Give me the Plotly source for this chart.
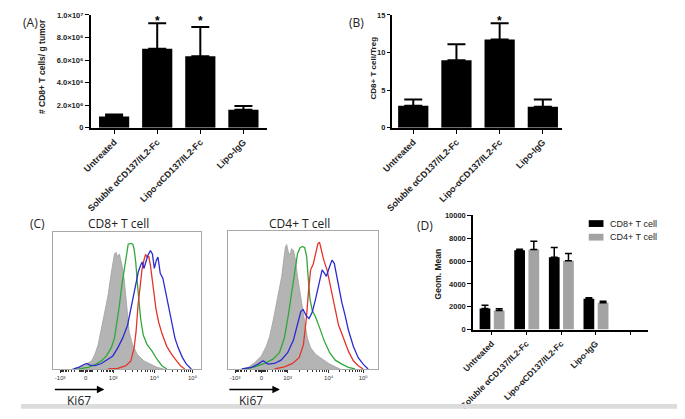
import numpy as np
import plotly.graph_objects as go

# page body has an 8px margin: the figure is drawn 8px in from the window corner
PAGE_W, PAGE_H, BODY = 685, 419, 8
W, H = PAGE_W - 2 * BODY, PAGE_H - 2 * BODY

def fx(px):
    return (px - BODY) / W

def fy(py):
    return 1 - (py - BODY) / H

# ---------------- data ----------------
groups = ["Untreated", "Soluble αCD137/IL2-Fc", "Lipo-αCD137/IL2-Fc", "Lipo-IgG"]

# (A) CD8+ T cells per g tumor
cd8_per_g = [1.0e6, 7.0e6, 6.33e6, 1.6e6]
cd8_per_g_err = [0.17e6, 2.26e6, 2.61e6, 0.32e6]
a_ticks = [0, 2e6, 4e6, 6e6, 8e6, 1e7]
a_ticktext = ["0", "2.0×10⁶", "4.0×10⁶", "6.0×10⁶", "8.0×10⁶", "1.0×10⁷"]
a_signif = ["Soluble αCD137/IL2-Fc", "Lipo-αCD137/IL2-Fc"]

# (B) CD8+ T cell / Treg
cd8_treg = [2.92, 8.98, 11.73, 2.79]
cd8_treg_err = [0.82, 2.11, 2.15, 0.95]
b_ticks = [0, 5, 10, 15]
b_signif = ["Lipo-αCD137/IL2-Fc"]

# (D) Ki67 geometric mean
d_categories = groups + [" "]
geo_cd8 = [1850, 6950, 6320, 2690]
geo_cd8_err = [290, 90, 860, 90]
geo_cd4 = [1660, 7000, 6030, 2340]
geo_cd4_err = [170, 720, 630, 150]
d_ticks = [0, 2000, 4000, 6000, 8000, 10000]
d_ticktext = ["0", "2000", "4000", "6000", "8000", "10000"]

# (C) Ki67 histograms (channel 0-1000 on display scale, % of mode)
hist_ticktext = ["-10³", "0", "10³", "10⁴", "10⁵"]
cd8_tickpos = [46, 219, 404, 682, 940]
cd4_tickpos = [48, 223, 398, 672, 902]

cd8_gray_x = [125.8, 158.9, 192.1, 225.2, 258.3, 280.4, 302.4, 324.5, 346.6, 368.7, 390.7, 401.8, 412.8, 423.8, 434.9, 445.9, 457.0, 468.0, 479.0, 490.1, 501.1, 512.1, 534.2, 567.3, 611.5, 655.6, 699.8, 743.9]
cd8_gray_y = [0, 0.5, 1.7, 3.5, 5.9, 10.6, 17.7, 29.6, 41.4, 53.2, 69.7, 75.7, 83.9, 85.1, 81.6, 83.9, 79.2, 73.3, 65.0, 50.8, 39.0, 27.2, 17.7, 10.6, 5.9, 3.5, 1.2, 0]
cd8_green_x = [170.0, 236.2, 280.4, 324.5, 357.6, 390.7, 412.8, 430.5, 445.9, 461.4, 474.6, 485.7, 496.7, 505.5, 523.2, 536.4, 545.3, 556.3, 567.3, 578.4, 589.4, 607.1, 633.6, 666.7, 699.8, 732.9, 766.0]
cd8_green_y = [0, 1.2, 3.1, 5.9, 9.5, 15.4, 22.5, 34.3, 46.1, 60.3, 69.7, 79.2, 87.5, 91.0, 91.5, 91.0, 87.5, 78.0, 62.6, 48.5, 36.6, 24.8, 17.7, 13.0, 7.1, 2.4, 0]
cd8_red_x = [368.7, 434.9, 490.1, 523.2, 545.3, 558.5, 571.7, 585.0, 598.2, 611.5, 622.5, 633.6, 644.6, 655.6, 666.7, 677.7, 693.2, 710.8, 732.9, 766.0, 799.1, 832.2, 858.7, 887.4]
cd8_red_y = [0, 0.5, 2.4, 5.9, 15.4, 27.2, 46.1, 60.3, 72.1, 79.2, 83.5, 81.6, 82.0, 75.6, 66.2, 55.6, 43.7, 34.3, 26.0, 16.5, 10.6, 5.9, 2.4, 0]
cd8_blue_x = [136.9, 170.0, 203.1, 225.2, 247.2, 280.4, 324.5, 368.7, 401.8, 434.9, 468.0, 501.1, 523.2, 540.8, 556.3, 574.0, 589.4, 600.4, 611.5, 622.5, 638.0, 655.6, 668.9, 682.1, 695.4, 706.4, 721.9, 739.5, 755.0, 777.0, 799.1, 821.2, 843.3, 872.0, 898.5, 931.6]
cd8_blue_y = [0, 1.2, 3.1, 4.0, 2.8, 2.4, 4.0, 7.1, 9.5, 15.4, 22.5, 31.9, 43.7, 55.6, 62.6, 70.9, 75.6, 78.0, 73.3, 76.8, 82.7, 86.3, 83.9, 73.3, 79.2, 81.6, 69.7, 66.2, 57.9, 46.1, 34.3, 22.5, 15.4, 8.3, 3.5, 0]

cd4_gray_x = [91.9, 135.7, 179.4, 223.2, 256.0, 277.9, 299.8, 321.7, 343.5, 358.9, 372.0, 382.9, 391.7, 402.6, 413.6, 424.5, 437.6, 450.8, 463.9, 479.2, 496.7, 512.0, 529.5, 551.4, 584.2, 628.0, 671.8, 715.5, 748.4]
cd4_gray_y = [0, 1.2, 4.7, 9.4, 16.5, 23.5, 34.1, 45.9, 56.5, 67.1, 78.8, 88.2, 90.1, 84.7, 82.4, 87.1, 85.9, 78.8, 67.1, 57.6, 45.9, 34.1, 22.4, 15.3, 10.6, 7.1, 4.0, 1.6, 0]
cd4_green_x = [113.8, 179.4, 245.1, 299.8, 343.5, 376.4, 402.6, 424.5, 446.4, 463.9, 481.4, 496.7, 512.0, 525.2, 536.1, 547.1, 562.4, 584.2, 612.7, 643.3, 678.3, 715.5, 759.3, 803.1, 846.8]
cd4_green_y = [0, 1.6, 4.0, 7.1, 11.8, 22.4, 38.8, 55.3, 71.8, 83.5, 87.8, 88.7, 87.8, 81.2, 64.7, 50.6, 42.4, 37.6, 29.4, 20.0, 11.8, 6.4, 3.5, 1.2, 0]
cd4_red_x = [310.7, 376.4, 431.1, 474.8, 503.3, 523.0, 538.3, 551.4, 568.9, 584.2, 599.6, 610.5, 621.5, 639.0, 660.8, 682.7, 709.0, 737.4, 770.2, 803.1, 835.9, 868.7, 901.5]
cd4_red_y = [0, 1.6, 4.0, 8.2, 17.6, 36.5, 57.6, 71.8, 76.0, 83.5, 90.6, 91.8, 87.1, 78.8, 71.8, 60.0, 45.9, 31.8, 22.4, 12.9, 5.9, 2.4, 0]
cd4_blue_x = [91.9, 157.6, 201.3, 234.1, 267.0, 310.7, 354.5, 398.3, 437.6, 463.9, 485.8, 501.1, 520.8, 540.5, 562.4, 584.2, 606.1, 628.0, 643.3, 656.5, 674.0, 693.7, 709.0, 726.5, 744.0, 759.3, 781.2, 803.1, 835.9, 868.7, 901.5, 934.4]
cd4_blue_y = [0, 1.2, 3.5, 5.9, 3.5, 4.0, 6.4, 11.8, 21.2, 32.9, 41.6, 43.1, 38.8, 36.5, 41.2, 50.6, 62.4, 71.8, 69.4, 67.1, 72.9, 78.8, 76.5, 65.9, 55.3, 48.2, 38.8, 28.2, 16.5, 8.2, 3.5, 0]

# ---------------- styling ----------------
ARIAL = "Liberation Sans"
LABEL_FONT = "Open Sans"
GREEN, RED, BLUE = "#2fa83a", "#e5332a", "#2b2bd1"
GRAY_BAR = "#a3a3a3"

fig = go.Figure()

# (A)
fig.add_trace(go.Bar(x=groups, y=cd8_per_g, width=0.7, marker=dict(color="black", line=dict(width=0)),
                     error_y=dict(type="data", array=cd8_per_g_err, arrayminus=[0]*4, symmetric=False,
                                  color="black", thickness=2, width=9),
                     xaxis="x", yaxis="y", showlegend=False))
# (B)
fig.add_trace(go.Bar(x=groups, y=cd8_treg, width=0.7, marker=dict(color="black", line=dict(width=0)),
                     error_y=dict(type="data", array=cd8_treg_err, arrayminus=[0]*4, symmetric=False,
                                  color="black", thickness=2, width=9),
                     xaxis="x2", yaxis="y2", showlegend=False))

# (C) histograms
def add_hist(xs, ys, ax, ay, color, fill=False):
    if fill:
        fig.add_trace(go.Scatter(x=xs, y=ys, mode="lines", fill="tozeroy", fillcolor="#b4b4b4",
                                 line=dict(color="#a0a0a0", width=0.8), xaxis=ax, yaxis=ay, showlegend=False))
    else:
        fig.add_trace(go.Scatter(x=xs, y=ys, mode="lines", line=dict(color=color, width=1.3),
                                 xaxis=ax, yaxis=ay, showlegend=False))

add_hist(cd8_gray_x, cd8_gray_y, "x3", "y3", None, fill=True)
add_hist(cd8_green_x, cd8_green_y, "x3", "y3", GREEN)
add_hist(cd8_red_x, cd8_red_y, "x3", "y3", RED)
add_hist(cd8_blue_x, cd8_blue_y, "x3", "y3", BLUE)
add_hist(cd4_gray_x, cd4_gray_y, "x4", "y4", None, fill=True)
add_hist(cd4_green_x, cd4_green_y, "x4", "y4", GREEN)
add_hist(cd4_red_x, cd4_red_y, "x4", "y4", RED)
add_hist(cd4_blue_x, cd4_blue_y, "x4", "y4", BLUE)

# (D)
fig.add_trace(go.Bar(x=groups, y=geo_cd8, width=0.31, offset=-0.35, marker=dict(color="black", line=dict(width=0)),
                     error_y=dict(type="data", array=geo_cd8_err, arrayminus=[0]*4, symmetric=False,
                                  color="black", thickness=1.5, width=3.5),
                     xaxis="x5", yaxis="y5", showlegend=False))
fig.add_trace(go.Bar(x=groups, y=geo_cd4, width=0.31, offset=0.06, marker=dict(color=GRAY_BAR, line=dict(width=0)),
                     error_y=dict(type="data", array=geo_cd4_err, arrayminus=[0]*4, symmetric=False,
                                  color="black", thickness=1.5, width=3.5),
                     xaxis="x5", yaxis="y5", showlegend=False))


def minor_positions(tp):
    neg, p0, p1, p2, p3 = tp
    out = []
    scale = np.arcsinh(1000 / 150.0)
    for v in list(range(10, 100, 20)) + list(range(100, 1000, 100)):
        t = np.arcsinh(v / 150.0) / scale
        out.append(p0 + t * (p1 - p0))
        out.append(p0 - t * (p0 - neg))
    for k in range(2, 10):
        out.append(p1 + np.log10(k) * (p2 - p1))
        out.append(p2 + np.log10(k) * (p3 - p2))
    return sorted(out)


cat_axis = dict(type="category", showline=True, linecolor="black", linewidth=1.5,
                ticks="outside", ticklen=4, tickwidth=1.2, tickcolor="black", tickangle=-45,
                tickfont=dict(family=ARIAL, size=9, color="#222", weight="bold"), showgrid=False, zeroline=False)
val_axis = dict(showline=True, linecolor="black", linewidth=1.5, ticks="outside", ticklen=4, tickwidth=1.2,
                tickcolor="black", tickmode="array",
                tickfont=dict(family=ARIAL, size=7.5, color="#222", weight="bold"),
                showgrid=False, zeroline=False)

hist_x = dict(range=[0, 1000], showline=True, linecolor="#a8a8a8", linewidth=1, mirror=True,
              tickmode="array", ticktext=hist_ticktext, ticks="outside", ticklen=3, tickcolor="#333",
              tickfont=dict(family=ARIAL, size=6, color="#333"), showgrid=False, zeroline=False)
hist_y = dict(range=[0, 100], showline=True, linecolor="#a8a8a8", linewidth=1, mirror=True,
              showticklabels=False, ticks="", showgrid=False, zeroline=False)

fig.update_layout(
    width=W, height=H, margin=dict(l=0, r=0, t=0, b=0),
    paper_bgcolor="white", plot_bgcolor="white", barmode="overlay", showlegend=False,
    xaxis=dict(cat_axis, domain=[fx(79), fx(259)], range=[-0.545, 3.55], anchor="y"),
    yaxis=dict(val_axis, domain=[fy(127), fy(11)], range=[0, 1e7],
               tickvals=a_ticks, ticktext=a_ticktext, anchor="x"),
    xaxis2=dict(cat_axis, domain=[fx(386), fx(560)], range=[-0.5, 3.45], anchor="y2"),
    yaxis2=dict(val_axis, domain=[fy(127), fy(11)], range=[0, 15], tickvals=b_ticks,
                ticktext=[str(v) for v in b_ticks], anchor="x2", ticklen=3,
                tickfont=dict(family=ARIAL, size=7.5, color="#222", weight="bold")),
    xaxis3=dict(hist_x, domain=[fx(41), fx(192)], tickvals=cd8_tickpos, anchor="y3",
                minor=dict(tickmode="array", tickvals=minor_positions(cd8_tickpos), ticks="outside",
                           ticklen=2, tickcolor="#333")),
    yaxis3=dict(hist_y, domain=[fy(375), fy(234)], anchor="x3"),
    xaxis4=dict(hist_x, domain=[fx(219), fx(372)], tickvals=cd4_tickpos, anchor="y4",
                minor=dict(tickmode="array", tickvals=minor_positions(cd4_tickpos), ticks="outside",
                           ticklen=2, tickcolor="#333")),
    yaxis4=dict(hist_y, domain=[fy(375), fy(233)], anchor="x4"),
    xaxis5=dict(cat_axis, domain=[fx(469), fx(647)], range=[-0.54, 4.5], anchor="y5",
                categoryorder="array", categoryarray=d_categories,
                tickfont=dict(family=ARIAL, size=8.5, color="#222", weight="bold")),
    yaxis5=dict(val_axis, domain=[fy(334.5), fy(217)], range=[0, 10000], tickvals=d_ticks,
                ticktext=d_ticktext, anchor="x5"),
)

ann = []
def text(px, py, s, size=12, family=LABEL_FONT, bold=False, angle=0, color="#222",
         xanchor="center", yanchor="middle"):
    ann.append(dict(x=fx(px), y=fy(py), xref="paper", yref="paper", text=s, showarrow=False,
                    font=dict(family=family, size=size, color=color, weight="bold" if bold else "normal"),
                    textangle=angle, xanchor=xanchor, yanchor=yanchor))

# panel labels
text(BODY, BODY, "(A)", 12, xanchor="left", yanchor="top")
text(350, BODY, "(B)", 12, yanchor="top")
text(25, 225, "(C)", 12)
text(420, 228, "(D)", 12)
text(107, 225, "CD8+ T cell", 12)
text(292, 225, "CD4+ T cell", 12)
text(67, 407, "Ki67", 12)
text(243, 407, "Ki67", 12)

# axis titles
text(30, 64, "# CD8+ T cells/ g tumor", 8.5, ARIAL, True, -90)
text(367, 66, "CD8+ T cell/Treg", 8, ARIAL, True, -90)
text(433, 277, "Geom. Mean", 8.5, ARIAL, True, -90)

# significance stars (placed at data x on the category axes)
for g in a_signif:
    ann.append(dict(x=g, y=1.0, xref="x", yref="paper", text="*", showarrow=False,
                    font=dict(family=ARIAL, size=12, color="black", weight="bold"), yanchor="top"))
for g in b_signif:
    ann.append(dict(x=g, y=1.0, xref="x2", yref="paper", text="*", showarrow=False,
                    font=dict(family=ARIAL, size=12, color="black", weight="bold"), yanchor="top"))

# Ki67 arrows
for x0, x1 in [(42, 93), (220, 272)]:
    ann.append(dict(x=fx(x1), y=fy(396), xref="paper", yref="paper", ax=-(x1 - x0), ay=0, text="",
                    showarrow=True, arrowhead=2, arrowsize=1, arrowwidth=1.5, arrowcolor="black"))

# legend of D
text(607, 225.5, "CD8+ T cell", 9, ARIAL, False, xanchor="left")
text(607, 239.5, "CD4+ T cell", 9, ARIAL, False, xanchor="left")
fig.update_layout(annotations=ann)

shapes = [
    dict(type="rect", xref="paper", yref="paper", x0=fx(587), x1=fx(602), y0=fy(229), y1=fy(222),
         fillcolor="black", line=dict(width=0)),
    dict(type="rect", xref="paper", yref="paper", x0=fx(587), x1=fx(602), y0=fy(243), y1=fy(236),
         fillcolor=GRAY_BAR, line=dict(width=0)),
    dict(type="rect", xref="paper", yref="paper", x0=0, x1=1, y0=0, y1=fy(416),
         fillcolor="#dcdcdc", line=dict(width=0)),
]
fig.update_layout(shapes=shapes)

fig.write_html("out.html")
